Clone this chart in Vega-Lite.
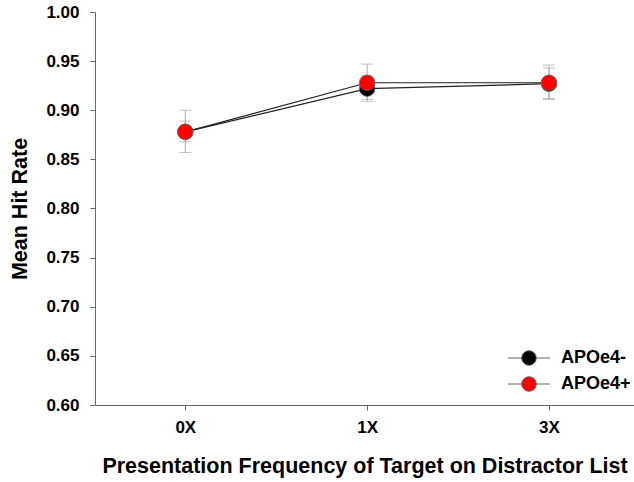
{
  "$schema": "https://vega.github.io/schema/vega-lite/v6.json",
  "autosize": "none",
  "width": 539,
  "height": 393,
  "padding": {"left": 95, "top": 12, "right": 0, "bottom": 77},
  "background": "white",
  "config": {
    "view": {"stroke": null},
    "font": "Liberation Sans",
    "axis": {
      "grid": false,
      "domainColor": "#666",
      "tickColor": "#666",
      "tickSize": 5,
      "labelFont": "Liberation Sans",
      "labelFontWeight": "bold",
      "labelFontSize": 17,
      "labelColor": "black",
      "titleFont": "Liberation Sans",
      "titleFontWeight": "bold",
      "titleFontSize": 21.5,
      "titleColor": "black"
    }
  },
  "data": {
    "values": [
      {"freq": "0X", "idx": 0, "group": "APOe4-", "mean": 0.878, "lo": 0.868, "hi": 0.889},
      {"freq": "1X", "idx": 1, "group": "APOe4-", "mean": 0.922, "lo": 0.909, "hi": 0.935},
      {"freq": "3X", "idx": 2, "group": "APOe4-", "mean": 0.927, "lo": 0.912, "hi": 0.943},
      {"freq": "0X", "idx": 0, "group": "APOe4+", "mean": 0.878, "lo": 0.857, "hi": 0.900},
      {"freq": "1X", "idx": 1, "group": "APOe4+", "mean": 0.928, "lo": 0.911, "hi": 0.947},
      {"freq": "3X", "idx": 2, "group": "APOe4+", "mean": 0.928, "lo": 0.911, "hi": 0.946}
    ]
  },
  "encoding": {
    "x": {
      "field": "idx",
      "type": "quantitative",
      "scale": {"domain": [-0.4966, 2.4674], "nice": false, "zero": false},
      "axis": {
        "title": "Presentation Frequency of Target on Distractor List",
        "values": [0, 1, 2],
        "labelExpr": "datum.value == 0 ? '0X' : datum.value == 1 ? '1X' : '3X'",
        "labelPadding": 9,
        "titlePadding": 20
      }
    }
  },
  "layer": [
    {
      "mark": {"type": "rule", "color": "#aaaaaa", "strokeWidth": 1},
      "encoding": {
        "y": {"field": "lo", "type": "quantitative"},
        "y2": {"field": "hi"},
        "detail": {"field": "group"}
      }
    },
    {
      "mark": {"type": "tick", "orient": "horizontal", "color": "#aaaaaa", "size": 12, "thickness": 1},
      "encoding": {
        "y": {"field": "lo", "type": "quantitative"},
        "detail": {"field": "group"}
      }
    },
    {
      "mark": {"type": "tick", "orient": "horizontal", "color": "#aaaaaa", "size": 12, "thickness": 1},
      "encoding": {
        "y": {"field": "hi", "type": "quantitative"},
        "detail": {"field": "group"}
      }
    },
    {
      "mark": {"type": "line", "color": "#222222", "strokeWidth": 1.2},
      "encoding": {
        "y": {"field": "mean", "type": "quantitative"},
        "detail": {"field": "group"}
      }
    },
    {
      "mark": {"type": "point", "shape": "circle", "filled": true, "opacity": 1, "size": 240, "stroke": "#666666", "strokeWidth": 0.8},
      "encoding": {
        "y": {
          "field": "mean",
          "type": "quantitative",
          "scale": {"domain": [0.6, 1.0], "nice": false, "zero": false},
          "axis": {
            "title": "Mean Hit Rate",
            "values": [0.6, 0.65, 0.7, 0.75, 0.8, 0.85, 0.9, 0.95, 1.0],
            "format": ".2f",
            "labelPadding": 11,
            "titlePadding": 14
          }
        },
        "fill": {
          "field": "group",
          "type": "nominal",
          "scale": {"domain": ["APOe4-", "APOe4+"], "range": ["#000000", "#ff0000"]},
          "legend": {
            "title": null,
            "orient": "none",
            "legendX": 425,
            "legendY": 337,
            "padding": 0,
            "symbolType": "M-2.9,0L-1,0M1,0L2.9,0M1,0A1,1,0,1,1,-1,0A1,1,0,1,1,1,0Z",
            "symbolSize": 210,
            "symbolStrokeColor": "#666666",
            "symbolStrokeWidth": 1,
            "symbolOpacity": 1,
            "labelFont": "Liberation Sans",
            "labelFontSize": 18,
            "labelFontWeight": "bold",
            "labelColor": "black",
            "labelOffset": 23,
            "rowPadding": 6
          }
        }
      }
    }
  ]
}
